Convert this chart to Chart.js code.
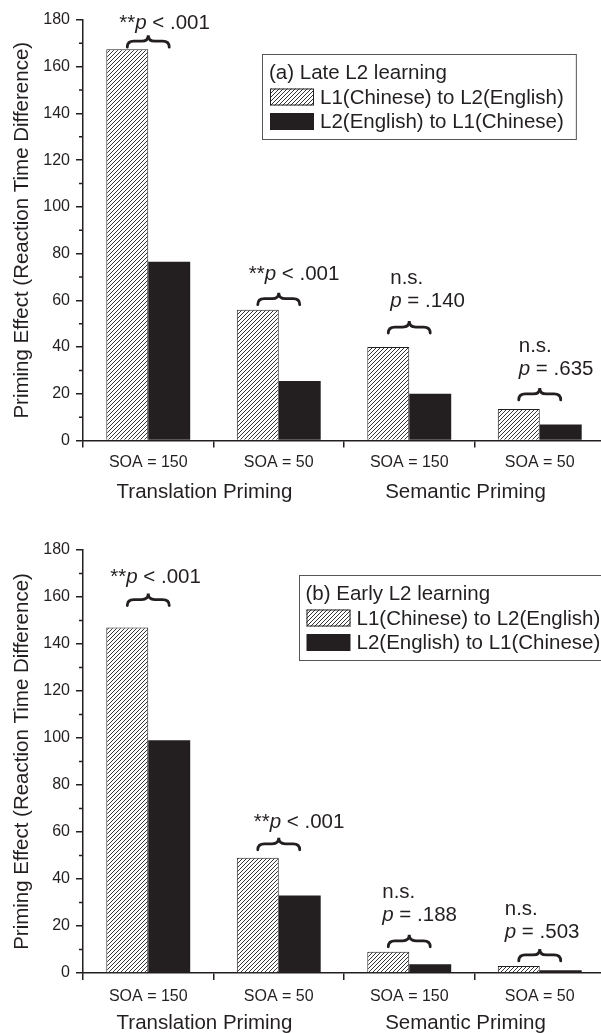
<!DOCTYPE html>
<html>
<head>
<meta charset="utf-8">
<title>Priming effects by SOA</title>
<script src="https://cdn.jsdelivr.net/npm/chart.js@4.4.1/dist/chart.umd.min.js"></script>
<style>
  html, body { margin: 0; padding: 0; background: #fff; width: 601px; height: 1033px; overflow: hidden; }
  .panel { position: absolute; left: 0; }
  canvas { display: block; }
</style>
</head>
<body>
<div class="panel" style="top:0"><canvas id="late" width="620" height="517"></canvas></div>
<div class="panel" style="top:517px"><canvas id="early" width="620" height="516"></canvas></div>
<script>
// ---- data ----
const categories = ['SOA = 150', 'SOA = 50', 'SOA = 150', 'SOA = 50'];
const groupNames = ['Translation Priming', 'Semantic Priming'];
const seriesNames = ['L1(Chinese) to L2(English)', 'L2(English) to L1(Chinese)'];
const yAxisTitle = 'Priming Effect (Reaction Time Difference)';
const yMin = 0, yMax = 180, yStep = 20;

// panel (a): late L2 learning
const lateTitle = '(a) Late L2 learning';
const lateL1toL2 = [167.5, 56, 40, 13.5];
const lateL2toL1 = [76.5, 25.5, 20, 6.8];
const lateNotes = [
  { lead: '**', p: ' < .001' },
  { lead: '**', p: ' < .001' },
  { above: 'n.s.', p: ' = .140' },
  { above: 'n.s.', p: ' = .635' }
];

// panel (b): early L2 learning
const earlyTitle = '(b) Early L2 learning';
const earlyL1toL2 = [147, 49, 9, 3];
const earlyL2toL1 = [99, 33, 3.7, 1.2];
const earlyNotes = [
  { lead: '**', p: ' < .001' },
  { lead: '**', p: ' < .001' },
  { above: 'n.s.', p: ' = .188' },
  { above: 'n.s.', p: ' = .503' }
];

// ---- styling ----
const FONT = '"Liberation Sans", Arial, Helvetica, sans-serif';
const INK = '#231f20';
const TEXT_SIZE = 20.5;
Chart.defaults.font.family = FONT;
Chart.defaults.color = INK;

function hatchPattern() {
  const c = document.createElement('canvas');
  c.width = 4; c.height = 4;
  const g = c.getContext('2d');
  g.fillStyle = '#ffffff';
  g.fillRect(0, 0, 4, 4);
  g.strokeStyle = '#2a2a2a';
  g.lineWidth = 0.95;
  g.beginPath();
  g.moveTo(-1, 5); g.lineTo(5, -1);
  g.moveTo(-1, 1); g.lineTo(1, -1);
  g.moveTo(3, 5); g.lineTo(5, 3);
  g.stroke();
  return g.createPattern(c, 'repeat');
}
const HATCH = hatchPattern();

// horizontal curly brace, tip pointing up
function drawBrace(ctx, x0, x1, yTop, h) {
  const xc = (x0 + x1) / 2, ym = yTop + h * 0.5, r = h * 0.55;
  ctx.beginPath();
  ctx.moveTo(x0, yTop + h);
  ctx.quadraticCurveTo(x0, ym, x0 + r, ym);
  ctx.lineTo(xc - r, ym);
  ctx.quadraticCurveTo(xc, ym, xc, yTop);
  ctx.quadraticCurveTo(xc, ym, xc + r, ym);
  ctx.lineTo(x1 - r, ym);
  ctx.quadraticCurveTo(x1, ym, x1, yTop + h);
  ctx.stroke();
}

// text with an italic "p"
function drawRuns(ctx, x, y, runs, size) {
  for (const run of runs) {
    ctx.font = (run.italic ? 'italic ' : '') + size + 'px ' + FONT;
    ctx.fillText(run.text, x, y);
    x += ctx.measureText(run.text).width;
  }
}

const panelDecor = {
  id: 'panelDecor',
  afterDraw(chart, args, o) {
    const { ctx, chartArea: a, scales: { x, y } } = chart;
    ctx.save();

    // minor ticks on the value axis
    ctx.strokeStyle = INK;
    ctx.lineWidth = 1.5;
    ctx.beginPath();
    for (let v = yMin + yStep / 2; v < yMax; v += yStep) {
      const py = y.getPixelForValue(v);
      ctx.moveTo(a.left - 4, py);
      ctx.lineTo(a.left, py);
    }
    ctx.stroke();

    // group labels under each pair of categories
    ctx.fillStyle = INK;
    ctx.font = TEXT_SIZE + 'px ' + FONT;
    ctx.textAlign = 'center';
    ctx.textBaseline = 'middle';
    groupNames.forEach((name, k) => {
      const gx = (x.getPixelForValue(2 * k) + x.getPixelForValue(2 * k + 1)) / 2 + o.groupDx;
      ctx.fillText(name, gx, o.groupY);
    });

    // significance notes with braces
    const m0 = chart.getDatasetMeta(0).data, m1 = chart.getDatasetMeta(1).data;
    ctx.textAlign = 'left';
    ctx.lineWidth = 2.8;
    ctx.lineCap = 'round';
    o.notes.forEach((note, i) => {
      const lay = o.noteLayout[i];
      const top = Math.min(m0[i].y, m1[i].y);
      const braceTop = top - lay.gap - 12;
      drawBrace(ctx, m0[i].x, m1[i].x, braceTop, 12);
      const tx = m0[i].x + lay.dx;
      if (note.lead) {
        drawRuns(ctx, tx, braceTop + lay.dy, [{ text: note.lead }, { text: 'p', italic: true }, { text: note.p }], TEXT_SIZE);
      } else {
        drawRuns(ctx, tx, braceTop + lay.dy, [{ text: 'p', italic: true }, { text: note.p }], TEXT_SIZE);
        drawRuns(ctx, tx, braceTop + lay.dy - 23, [{ text: note.above }], TEXT_SIZE);
      }
    });

    // boxed legend
    const L = o.legend;
    ctx.font = TEXT_SIZE + 'px ' + FONT;
    const tw = Math.max(ctx.measureText(L.title).width,
      ...chart.data.datasets.map(d => 51 + ctx.measureText(d.label).width));
    const bw = 8 + tw + 11, bh = 85;
    ctx.fillStyle = '#fff';
    ctx.fillRect(L.left, L.top, bw, bh);
    ctx.strokeStyle = '#555';
    ctx.lineWidth = 1;
    ctx.strokeRect(Math.round(L.left) + 0.5, Math.round(L.top) + 0.5, bw, bh);
    ctx.fillStyle = INK;
    ctx.fillText(L.title, L.left + 7, L.top + 19.5);
    chart.data.datasets.forEach((d, k) => {
      const cy = L.top + 43.5 + k * 24.5;
      ctx.fillStyle = d.backgroundColor;
      ctx.fillRect(L.left + 8, cy - 8.5, 44, 17);
      if (d.borderWidth) {
        ctx.strokeStyle = d.borderColor;
        ctx.lineWidth = 1;
        ctx.strokeRect(L.left + 8.5, cy - 8, 43, 16);
      }
      ctx.fillStyle = INK;
      ctx.fillText(d.label, L.left + 58, cy + 1);
    });
    ctx.restore();
  }
};

function makePanel(id, l1, l2, opts) {
  const canvas = document.getElementById(id);
  return new Chart(canvas, {
    type: 'bar',
    data: {
      labels: categories,
      datasets: [
        { label: seriesNames[0], data: l1, backgroundColor: HATCH, borderColor: INK, borderWidth: 1 },
        { label: seriesNames[1], data: l2, backgroundColor: INK, borderWidth: 0 }
      ]
    },
    plugins: [panelDecor],
    options: {
      responsive: false,
      devicePixelRatio: 1,
      animation: false,
      categoryPercentage: 0.643,
      barPercentage: 1,
      layout: { padding: { left: 0, right: 15, top: opts.plotTop, bottom: 0 } },
      scales: {
        x: {
          grid: { offset: true, drawOnChartArea: false, tickLength: 7, color: INK, lineWidth: 1.5 },
          border: { color: INK, width: 1.5 },
          ticks: { font: { size: 16 }, color: INK, padding: opts.xPad, maxRotation: 0 },
          afterFit(s) { s.height = opts.xHeight; }
        },
        y: {
          min: yMin, max: yMax,
          ticks: { stepSize: yStep, font: { size: 16 }, color: INK, padding: 6 },
          grid: { drawOnChartArea: false, tickLength: 7, color: INK, lineWidth: 1.5 },
          border: { color: INK, width: 1.5 },
          title: { display: true, text: yAxisTitle, font: { size: TEXT_SIZE }, color: INK, padding: { top: 10.5, bottom: 0 } },
          afterFit(s) { s.width = 83; }
        }
      },
      plugins: {
        legend: { display: false },
        tooltip: { enabled: false },
        panelDecor: {
          groupY: opts.groupY,
          groupDx: -9,
          notes: opts.notes,
          noteLayout: opts.noteLayout,
          legend: opts.legend
        }
      }
    }
  });
}

makePanel('late', lateL1toL2, lateL2toL1, {
  plotTop: 20, xHeight: 76.5, xPad: 5, groupY: 492,
  notes: lateNotes,
  noteLayout: [
    { gap: 2, dx: -8, dy: -12 },
    { gap: 5, dx: -9, dy: -18 },
    { gap: 14, dx: 2, dy: -20 },
    { gap: 9, dx: 0, dy: -19 }
  ],
  legend: { title: lateTitle, left: 262, top: 53.5 }
});

makePanel('early', earlyL1toL2, earlyL2toL1, {
  plotTop: 33, xHeight: 60, xPad: 7, groupY: 506,
  notes: earlyNotes,
  noteLayout: [
    { gap: 22, dx: -17, dy: -16 },
    { gap: 8, dx: -4, dy: -16 },
    { gap: 5, dx: -6, dy: -20 },
    { gap: 5, dx: -14, dy: -17 }
  ],
  legend: { title: earlyTitle, left: 298.5, top: 57.5 }
});
</script>
</body>
</html>
